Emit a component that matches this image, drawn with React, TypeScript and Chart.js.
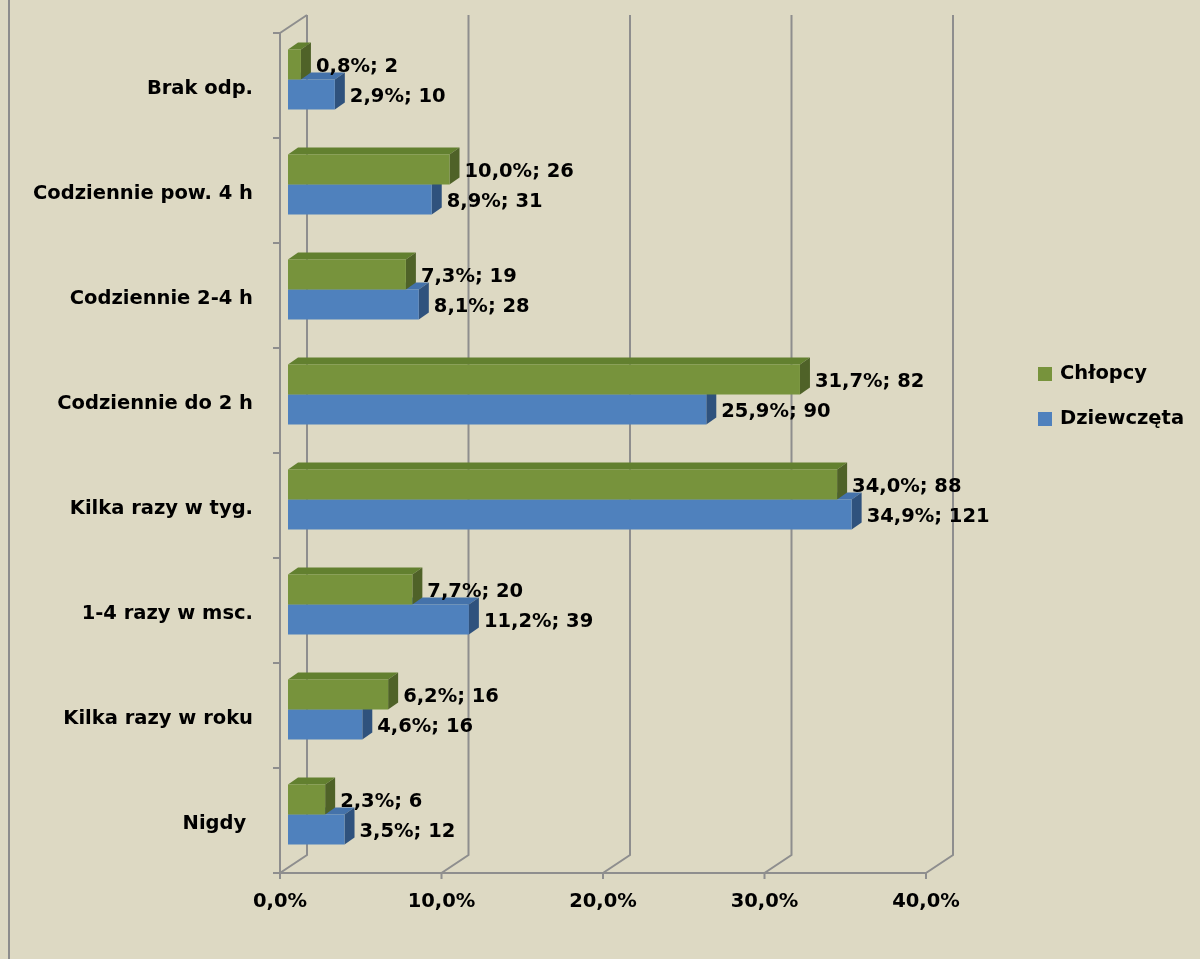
import React, { useEffect, useRef } from "react";
import { Chart, registerables } from "chart.js";

Chart.register(...registerables);

const categories = [
  "Brak odp.",
  "Codziennie pow. 4 h",
  "Codziennie 2-4 h",
  "Codziennie do 2 h",
  "Kilka razy w tyg.",
  "1-4 razy w msc.",
  "Kilka razy w roku",
  "Nigdy ",
];
const seriesNames = ["Chłopcy", "Dziewczęta"];
const boysPct = [0.8, 10.0, 7.3, 31.7, 34.0, 7.7, 6.2, 2.3];
const boysCount = [2, 26, 19, 82, 88, 20, 16, 6];
const girlsPct = [2.9, 8.9, 8.1, 25.9, 34.9, 11.2, 4.6, 3.5];
const girlsCount = [10, 31, 28, 90, 121, 39, 16, 12];
const xTickValues = [0, 10, 20, 30, 40];

const FONT = "'DejaVu Sans', Verdana, sans-serif";
const FSIZE = 19.5;
const frontColors = ["#77933C", "#4F81BD"];
const topColors = ["#62802F", "#4472AA"];
const sideColors = ["#4F6228", "#2F527D"];
const counts = [boysCount, girlsCount];
const GRID = "#8E8E8E";

const fmt = (v: number) => v.toFixed(1).replace(".", ",") + "%";

const threeD = {
  id: "threeD",
  beforeDatasetsDraw(chart: any) {
    const ctx = chart.ctx;
    const xs = chart.scales.x;
    const ca = chart.chartArea;
    const n = categories.length;
    const frontBottom = ca.bottom + 6;
    const frontTop = ca.top + 6;
    const dX = 27;
    const dY = 18;
    const fx0 = xs.getPixelForValue(0) - 8;
    ctx.save();
    ctx.strokeStyle = GRID;
    ctx.lineWidth = 2;
    ctx.beginPath();
    ctx.moveTo(fx0, frontTop);
    ctx.lineTo(fx0, frontBottom);
    ctx.moveTo(fx0, frontTop);
    ctx.lineTo(fx0 + dX, frontTop - dY);
    const fxEnd = xs.getPixelForValue(xTickValues[xTickValues.length - 1]) - 8;
    ctx.moveTo(fx0, frontBottom);
    ctx.lineTo(fxEnd, frontBottom);
    for (const v of xTickValues) {
      const fx = xs.getPixelForValue(v) - 8;
      ctx.moveTo(fx, frontBottom + 6);
      ctx.lineTo(fx, frontBottom);
      ctx.lineTo(fx + dX, frontBottom - dY);
      ctx.lineTo(fx + dX, frontTop - dY);
    }
    const step = (ca.bottom - ca.top) / n;
    for (let k = 0; k <= n; k++) {
      const y = frontTop + step * k;
      ctx.moveTo(fx0 - 7, y);
      ctx.lineTo(fx0, y);
    }
    ctx.stroke();

    const ddx = 10;
    const ddy = 7;
    for (const di of [1, 0]) {
      const meta = chart.getDatasetMeta(di);
      meta.data.forEach((el: any) => {
        const p = el.getProps(["x", "y", "base", "height"], true);
        const top = p.y - p.height / 2;
        const bot = p.y + p.height / 2;
        ctx.fillStyle = topColors[di];
        ctx.beginPath();
        ctx.moveTo(p.base, top);
        ctx.lineTo(p.x, top);
        ctx.lineTo(p.x + ddx, top - ddy);
        ctx.lineTo(p.base + ddx, top - ddy);
        ctx.closePath();
        ctx.fill();
        ctx.fillStyle = sideColors[di];
        ctx.beginPath();
        ctx.moveTo(p.x, top);
        ctx.lineTo(p.x + ddx, top - ddy);
        ctx.lineTo(p.x + ddx, bot - ddy);
        ctx.lineTo(p.x, bot);
        ctx.closePath();
        ctx.fill();
      });
    }
    ctx.restore();
  },
  afterDatasetsDraw(chart: any) {
    const ctx = chart.ctx;
    ctx.save();
    ctx.font = `bold ${FSIZE}px ${FONT}`;
    ctx.fillStyle = "#000";
    ctx.textAlign = "left";
    ctx.textBaseline = "middle";
    for (const di of [0, 1]) {
      const meta = chart.getDatasetMeta(di);
      const vals = chart.data.datasets[di].data;
      meta.data.forEach((el: any, i: number) => {
        const p = el.getProps(["x", "y"], true);
        ctx.fillText(`${fmt(vals[i])}; ${counts[di][i]}`, p.x + 15, p.y + 2);
      });
    }
    ctx.restore();
  },
  afterDraw(chart: any) {
    const ctx = chart.ctx;
    ctx.save();
    ctx.strokeStyle = "#8C8C8C";
    ctx.lineWidth = 2;
    ctx.beginPath();
    ctx.moveTo(9, 0);
    ctx.lineTo(9, chart.height);
    ctx.stroke();
    ctx.font = `bold ${FSIZE}px ${FONT}`;
    ctx.textAlign = "left";
    ctx.textBaseline = "middle";
    chart.data.datasets.forEach((ds: any, i: number) => {
      const cy = 374 + 45 * i;
      ctx.fillStyle = ds.backgroundColor;
      ctx.fillRect(1038, cy - 7, 14, 14);
      ctx.fillStyle = "#000";
      ctx.fillText(ds.label, 1060, cy);
    });
    ctx.restore();
  },
};

export default function App() {
  const ref = useRef<HTMLCanvasElement | null>(null);
  useEffect(() => {
    if (!ref.current) return;
    const chart = new Chart(ref.current, {
      type: "bar",
      data: {
        labels: categories,
        datasets: [
          {
            label: seriesNames[0],
            data: boysPct,
            backgroundColor: frontColors[0],
            borderWidth: 0,
            categoryPercentage: 0.5714,
            barPercentage: 1,
          },
          {
            label: seriesNames[1],
            data: girlsPct,
            backgroundColor: frontColors[1],
            borderWidth: 0,
            categoryPercentage: 0.5714,
            barPercentage: 1,
          },
        ],
      },
      options: {
        indexAxis: "y",
        animation: false,
        responsive: false,
        devicePixelRatio: 1,
        layout: { padding: { top: 27, left: 0, right: 266, bottom: 0 } },
        plugins: {
          legend: { display: false },
          tooltip: { enabled: false },
        },
        scales: {
          x: {
            min: 0,
            max: 40,
            afterBuildTicks: (s: any) => {
              s.ticks = xTickValues.map((v) => ({ value: v }));
            },
            ticks: {
              callback: (v: any) => fmt(Number(v)),
              font: { family: FONT, size: FSIZE, weight: "bold" },
              color: "#000",
              padding: 23,
              labelOffset: -8,
              maxRotation: 0,
            },
            grid: { display: false, drawTicks: false },
            border: { display: false },
            afterFit: (s: any) => {
              s.height = 92;
            },
          },
          y: {
            ticks: {
              font: { family: FONT, size: FSIZE, weight: "bold" },
              color: "#000",
              padding: 0,
              labelOffset: 9,
              autoSkip: false,
            },
            grid: { display: false, drawTicks: true, tickLength: 35 },
            border: { display: false },
            afterFit: (s: any) => {
              s.width = 288;
            },
          },
        },
      },
      plugins: [threeD],
    } as any);
    return () => chart.destroy();
  }, []);
  return (
    <div
      style={{
        position: "absolute",
        left: 0,
        top: 0,
        width: 1200,
        height: 959,
        background: "#DDD9C3",
      }}
    >
      <canvas ref={ref} width={1200} height={959} style={{ display: "block" }} />
    </div>
  );
}
